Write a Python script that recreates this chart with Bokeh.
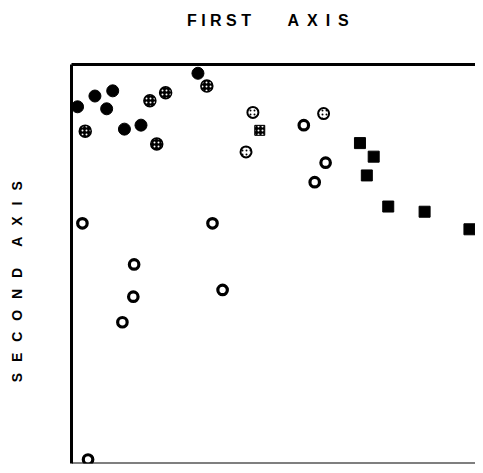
import math
from bokeh.plotting import figure
from bokeh.models import Range1d, Span, LinearAxis, FixedTicker
from bokeh.embed import file_html
from bokeh.resources import INLINE

# First-axis / second-axis scores
solid_x = [0.15, 0.58, 1.02, 0.87, 1.31, 1.72, 3.13]
solid_y = [8.94, 9.21, 9.34, 8.89, 8.38, 8.48, 9.78]

dark_hatch_x = [0.34, 1.94, 2.33, 2.11, 3.35]
dark_hatch_y = [8.33, 9.09, 9.29, 8.01, 9.46]

light_hatch_x = [4.49, 4.32, 6.24]
light_hatch_y = [8.80, 7.81, 8.77]

hatch_sq_x = [4.66]
hatch_sq_y = [8.35]

open_x = [5.75, 6.29, 6.02, 0.27, 3.49, 1.55, 1.53, 1.26, 3.74, 0.41]
open_y = [8.48, 7.54, 7.05, 6.02, 6.02, 4.99, 4.18, 3.54, 4.35, 0.10]

square_x = [7.14, 7.48, 7.31, 7.84, 8.74, 9.85]
square_y = [8.03, 7.69, 7.22, 6.44, 6.31, 5.87]

x_title = "F I R S T \u2003\u2003A\u2002X\u2002I\u2002S\u2002\u2009"
y_title = "S\u2002 E\u2002 C\u2002 O\u2002 N\u2002 D\u2002 \u2002 A\u2002 X\u2002 I\u2002 S\u2003\u2003\u2002"

p = figure(width=475, height=465, output_backend="svg", toolbar_location=None,
           x_range=Range1d(0, 10), y_range=Range1d(0, 10),
           min_border_left=71, min_border_right=0, min_border_top=64, min_border_bottom=2)
p.xaxis.visible = False
p.grid.visible = False
p.outline_line_color = None
p.background_fill_color = "white"
p.border_fill_color = "white"

top_axis = LinearAxis(ticker=FixedTicker(ticks=[]), axis_label=x_title)
p.add_layout(top_axis, "above")

for ax in (top_axis, p.yaxis[0]):
    ax.ticker = FixedTicker(ticks=[])
    ax.major_tick_in = 0
    ax.major_tick_out = 0
    ax.minor_tick_in = 0
    ax.minor_tick_out = 0
    ax.major_label_standoff = 0
    ax.axis_line_color = "black"
    ax.axis_line_width = 3
    ax.axis_label_text_font = "Liberation Sans"
    ax.axis_label_text_font_style = "bold"
    ax.axis_label_text_color = "black"

top_axis.axis_label_text_font_size = "16px"
top_axis.axis_label_standoff = 36
p.yaxis[0].axis_label = y_title
p.yaxis[0].axis_label_text_font_size = "14px"
p.yaxis[0].axis_label_standoff = 47

p.add_layout(Span(location=0, dimension="width", line_color="black", line_width=2))

p.scatter(solid_x, solid_y, marker="circle", size=12, fill_color="black", line_color="black")
p.scatter(dark_hatch_x, dark_hatch_y, marker="circle", size=12, fill_color="black",
          line_color="black", line_width=1.5, hatch_pattern="dot", hatch_color="white",
          hatch_scale=4, hatch_weight=1.2)
p.scatter(light_hatch_x, light_hatch_y, marker="circle", size=11, fill_color="white",
          line_color="black", line_width=2, hatch_pattern="dot", hatch_color="black",
          hatch_scale=4, hatch_weight=1.2)
p.scatter(hatch_sq_x, hatch_sq_y, marker="square", size=10, fill_color="black",
          line_color="black", hatch_pattern="dot", hatch_color="white",
          hatch_scale=4, hatch_weight=1.2)
p.scatter(open_x, open_y, marker="circle", size=9.5, fill_color="white",
          line_color="black", line_width=3.2)
p.scatter(square_x, square_y, marker="square", size=11, fill_color="black", line_color="black")

open("out.html", "w").write(file_html(p, INLINE))
